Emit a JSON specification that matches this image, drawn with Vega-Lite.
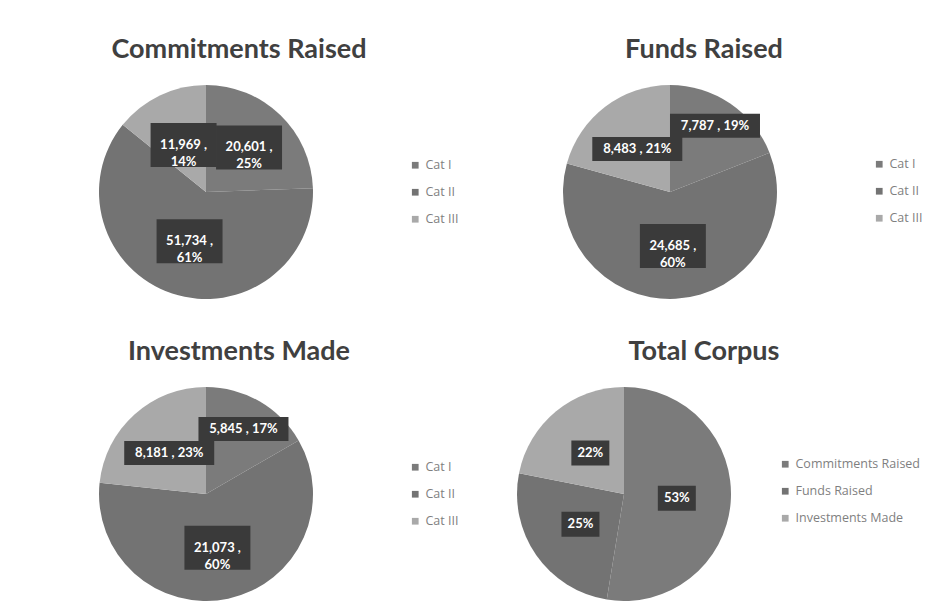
{
  "$schema": "https://vega.github.io/schema/vega-lite/v6.json",
  "background": "white",
  "padding": {"left": 99, "top": 36, "right": 0, "bottom": 0},
  "config": {
    "view": {"stroke": null},
    "font": "Lato",
    "title": {"fontSize": 27, "fontWeight": "bold", "color": "#404040", "font": "Lato", "anchor": "middle", "frame": "group"},
    "legend": {"title": null, "labelFont": "Open Sans", "labelFontSize": 12.5, "labelColor": "#7f7f7f", "symbolType": "square", "symbolSize": 45, "symbolStrokeWidth": 0, "rowPadding": 14, "labelOffset": 4, "padding": 0},
    "axis": {"disable": true}
  },
  "datasets": {
    "commitments": [
      {"category": "Cat I", "value": 20601, "label": "20,601 ,\n25%"},
      {"category": "Cat II", "value": 51734, "label": "51,734 ,\n61%"},
      {"category": "Cat III", "value": 11969, "label": "11,969 ,\n14%"}
    ],
    "funds": [
      {"category": "Cat I", "value": 7787, "label": "7,787 , 19%"},
      {"category": "Cat II", "value": 24685, "label": "24,685 ,\n60%"},
      {"category": "Cat III", "value": 8483, "label": "8,483 , 21%"}
    ],
    "investments": [
      {"category": "Cat I", "value": 5845, "label": "5,845 , 17%"},
      {"category": "Cat II", "value": 21073, "label": "21,073 ,\n60%"},
      {"category": "Cat III", "value": 8181, "label": "8,181 , 23%"}
    ],
    "total": [
      {"category": "Commitments Raised", "value": 84304, "label": "53%"},
      {"category": "Funds Raised", "value": 40955, "label": "25%"},
      {"category": "Investments Made", "value": 35099, "label": "22%"}
    ]
  },
  "resolve": {"scale": {"color": "independent"}, "legend": {"color": "independent"}},
  "spacing": 39,
  "vconcat": [
    {
      "hconcat": [
        {
          "width": 214, "height": 214,
          "data": {"name": "commitments"},
          "title": {"text": "Commitments Raised", "dx": 33, "offset": 21},
          "transform": [
            {"joinaggregate": [{"op": "sum", "field": "value", "as": "total"}]},
            {"window": [{"op": "sum", "field": "value", "as": "cum"}], "sort": [{"field": "category", "order": "ascending"}], "frame": [null, 0]},
            {"calculate": "2 * PI * (datum.cum - datum.value / 2) / datum.total", "as": "angle"},
            {"calculate": "datum.category === 'Cat I' ? 62 : 52", "as": "r"},
            {"calculate": "datum.r * sin(datum.angle)", "as": "lx"},
            {"calculate": "datum.r * cos(datum.angle)", "as": "ly"},
            {"calculate": "indexof(datum.label, '\\n') >= 0 ? 'two' : (length(datum.label) <= 4 ? 'short' : 'one')", "as": "kind"}
          ],
          "layer": [
            {"mark": {"type": "arc", "outerRadius": 107},
             "encoding": {
               "theta": {"field": "value", "type": "quantitative", "stack": true},
               "order": {"field": "category", "type": "ordinal", "sort": "ascending"},
               "color": {"field": "category", "type": "nominal", "scale": {"domain": ["Cat I", "Cat II", "Cat III"], "range": ["#7b7b7b", "#737373", "#a9a9a9"]}, "legend": {"orient": "none", "legendX": 310, "legendY": 74}}
             }},
            {"mark": {"type": "point", "filled": true, "opacity": 1, "size": 8100, "color": "#3a3a3a"},
             "encoding": {
               "x": {"field": "lx", "type": "quantitative", "scale": {"domain": [-107, 107], "nice": false, "zero": false}, "axis": null},
               "y": {"field": "ly", "type": "quantitative", "scale": {"domain": [-107, 107], "nice": false, "zero": false}, "axis": null},
               "shape": {"field": "kind", "type": "nominal", "scale": {"domain": ["two", "one", "short"], "range": ["M-0.733,-0.489H0.733V0.489H-0.733Z", "M-1,-0.267H1V0.267H-1Z", "M-0.422,-0.278H0.422V0.278H-0.422Z"]}, "legend": null}
             }},
            {"mark": {"type": "text", "font": "Lato", "fontWeight": "bold", "fontSize": 13, "lineHeight": 17, "lineBreak": "\n", "color": "white", "align": "center", "baseline": "middle"},
             "encoding": {
               "x": {"field": "lx", "type": "quantitative"},
               "y": {"field": "ly", "type": "quantitative"},
               "text": {"field": "label"}
             }}
          ]
        },
        {
          "width": 214, "height": 214,
          "data": {"name": "funds"},
          "title": {"text": "Funds Raised", "dx": 34, "offset": 21},
          "transform": [
            {"joinaggregate": [{"op": "sum", "field": "value", "as": "total"}]},
            {"window": [{"op": "sum", "field": "value", "as": "cum"}], "sort": [{"field": "category", "order": "ascending"}], "frame": [null, 0]},
            {"calculate": "2 * PI * (datum.cum - datum.value / 2) / datum.total", "as": "angle"},
            {"calculate": "datum.category === 'Cat I' ? 80 : 54", "as": "r"},
            {"calculate": "datum.r * sin(datum.angle)", "as": "lx"},
            {"calculate": "datum.r * cos(datum.angle)", "as": "ly"},
            {"calculate": "indexof(datum.label, '\\n') >= 0 ? 'two' : (length(datum.label) <= 4 ? 'short' : 'one')", "as": "kind"}
          ],
          "layer": [
            {"mark": {"type": "arc", "outerRadius": 107},
             "encoding": {
               "theta": {"field": "value", "type": "quantitative", "stack": true},
               "order": {"field": "category", "type": "ordinal", "sort": "ascending"},
               "color": {"field": "category", "type": "nominal", "scale": {"domain": ["Cat I", "Cat II", "Cat III"], "range": ["#7b7b7b", "#737373", "#a9a9a9"]}, "legend": {"orient": "none", "legendX": 310, "legendY": 73}}
             }},
            {"mark": {"type": "point", "filled": true, "opacity": 1, "size": 8100, "color": "#3a3a3a"},
             "encoding": {
               "x": {"field": "lx", "type": "quantitative", "scale": {"domain": [-107, 107], "nice": false, "zero": false}, "axis": null},
               "y": {"field": "ly", "type": "quantitative", "scale": {"domain": [-107, 107], "nice": false, "zero": false}, "axis": null},
               "shape": {"field": "kind", "type": "nominal", "scale": {"domain": ["two", "one", "short"], "range": ["M-0.733,-0.489H0.733V0.489H-0.733Z", "M-1,-0.267H1V0.267H-1Z", "M-0.422,-0.278H0.422V0.278H-0.422Z"]}, "legend": null}
             }},
            {"mark": {"type": "text", "font": "Lato", "fontWeight": "bold", "fontSize": 13, "lineHeight": 17, "lineBreak": "\n", "color": "white", "align": "center", "baseline": "middle"},
             "encoding": {
               "x": {"field": "lx", "type": "quantitative"},
               "y": {"field": "ly", "type": "quantitative"},
               "text": {"field": "label"}
             }}
          ]
        }
      ],
      "spacing": 104,
      "resolve": {"scale": {"color": "independent"}, "legend": {"color": "independent"}}
    },
    {
      "hconcat": [
        {
          "width": 214, "height": 214,
          "data": {"name": "investments"},
          "title": {"text": "Investments Made", "dx": 33, "offset": 21},
          "transform": [
            {"joinaggregate": [{"op": "sum", "field": "value", "as": "total"}]},
            {"window": [{"op": "sum", "field": "value", "as": "cum"}], "sort": [{"field": "category", "order": "ascending"}], "frame": [null, 0]},
            {"calculate": "2 * PI * (datum.cum - datum.value / 2) / datum.total", "as": "angle"},
            {"calculate": "datum.category === 'Cat I' ? 75 : 55", "as": "r"},
            {"calculate": "datum.r * sin(datum.angle)", "as": "lx"},
            {"calculate": "datum.r * cos(datum.angle)", "as": "ly"},
            {"calculate": "indexof(datum.label, '\\n') >= 0 ? 'two' : (length(datum.label) <= 4 ? 'short' : 'one')", "as": "kind"}
          ],
          "layer": [
            {"mark": {"type": "arc", "outerRadius": 107},
             "encoding": {
               "theta": {"field": "value", "type": "quantitative", "stack": true},
               "order": {"field": "category", "type": "ordinal", "sort": "ascending"},
               "color": {"field": "category", "type": "nominal", "scale": {"domain": ["Cat I", "Cat II", "Cat III"], "range": ["#7b7b7b", "#737373", "#a9a9a9"]}, "legend": {"orient": "none", "legendX": 310, "legendY": 74}}
             }},
            {"mark": {"type": "point", "filled": true, "opacity": 1, "size": 8100, "color": "#3a3a3a"},
             "encoding": {
               "x": {"field": "lx", "type": "quantitative", "scale": {"domain": [-107, 107], "nice": false, "zero": false}, "axis": null},
               "y": {"field": "ly", "type": "quantitative", "scale": {"domain": [-107, 107], "nice": false, "zero": false}, "axis": null},
               "shape": {"field": "kind", "type": "nominal", "scale": {"domain": ["two", "one", "short"], "range": ["M-0.733,-0.489H0.733V0.489H-0.733Z", "M-1,-0.267H1V0.267H-1Z", "M-0.422,-0.278H0.422V0.278H-0.422Z"]}, "legend": null}
             }},
            {"mark": {"type": "text", "font": "Lato", "fontWeight": "bold", "fontSize": 13, "lineHeight": 17, "lineBreak": "\n", "color": "white", "align": "center", "baseline": "middle"},
             "encoding": {
               "x": {"field": "lx", "type": "quantitative"},
               "y": {"field": "ly", "type": "quantitative"},
               "text": {"field": "label"}
             }}
          ]
        },
        {
          "width": 214, "height": 214,
          "data": {"name": "total"},
          "title": {"text": "Total Corpus", "dx": 80, "offset": 21},
          "transform": [
            {"joinaggregate": [{"op": "sum", "field": "value", "as": "total"}]},
            {"window": [{"op": "sum", "field": "value", "as": "cum"}], "sort": [{"field": "category", "order": "ascending"}], "frame": [null, 0]},
            {"calculate": "2 * PI * (datum.cum - datum.value / 2) / datum.total", "as": "angle"},
            {"calculate": "53", "as": "r"},
            {"calculate": "datum.r * sin(datum.angle)", "as": "lx"},
            {"calculate": "datum.r * cos(datum.angle)", "as": "ly"},
            {"calculate": "indexof(datum.label, '\\n') >= 0 ? 'two' : (length(datum.label) <= 4 ? 'short' : 'one')", "as": "kind"}
          ],
          "layer": [
            {"mark": {"type": "arc", "outerRadius": 107},
             "encoding": {
               "theta": {"field": "value", "type": "quantitative", "stack": true},
               "order": {"field": "category", "type": "ordinal", "sort": "ascending"},
               "color": {"field": "category", "type": "nominal", "scale": {"domain": ["Commitments Raised", "Funds Raised", "Investments Made"], "range": ["#7b7b7b", "#737373", "#a9a9a9"]}, "legend": {"orient": "none", "legendX": 262, "legendY": 71}}
             }},
            {"mark": {"type": "point", "filled": true, "opacity": 1, "size": 8100, "color": "#3a3a3a"},
             "encoding": {
               "x": {"field": "lx", "type": "quantitative", "scale": {"domain": [-107, 107], "nice": false, "zero": false}, "axis": null},
               "y": {"field": "ly", "type": "quantitative", "scale": {"domain": [-107, 107], "nice": false, "zero": false}, "axis": null},
               "shape": {"field": "kind", "type": "nominal", "scale": {"domain": ["two", "one", "short"], "range": ["M-0.733,-0.489H0.733V0.489H-0.733Z", "M-1,-0.267H1V0.267H-1Z", "M-0.422,-0.278H0.422V0.278H-0.422Z"]}, "legend": null}
             }},
            {"mark": {"type": "text", "font": "Lato", "fontWeight": "bold", "fontSize": 13, "lineHeight": 17, "lineBreak": "\n", "color": "white", "align": "center", "baseline": "middle"},
             "encoding": {
               "x": {"field": "lx", "type": "quantitative"},
               "y": {"field": "ly", "type": "quantitative"},
               "text": {"field": "label"}
             }}
          ]
        }
      ],
      "spacing": 58,
      "resolve": {"scale": {"color": "independent"}, "legend": {"color": "independent"}}
    }
  ]
}
